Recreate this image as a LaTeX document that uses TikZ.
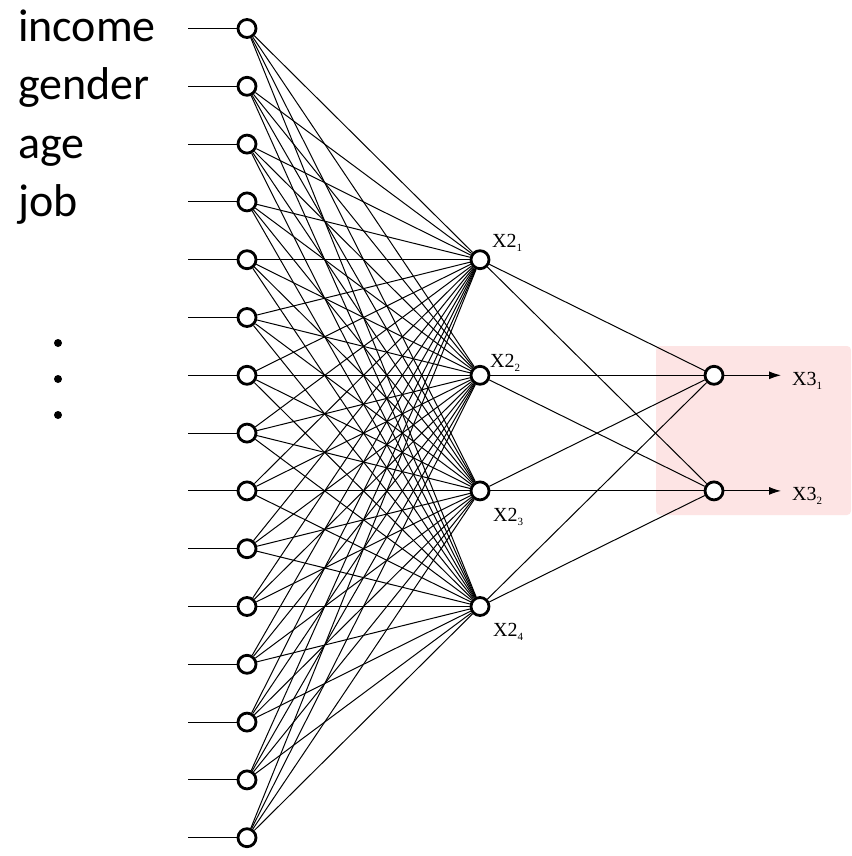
\documentclass[tikz,border=0pt]{standalone}
\usepackage{fontspec}
\setmainfont{Carlito}
\newfontfamily\xserif{Liberation Serif}
\usetikzlibrary{arrows.meta}
\definecolor{pinkbg}{RGB}{253,228,228}
\begin{document}
\begin{tikzpicture}[x=1pt,y=-1pt,
  neuron/.style={circle,draw=black,fill=white,line width=2.8pt,minimum size=18pt,inner sep=0pt},
  link/.style={line width=1pt,black},
  inlabel/.style={anchor=base west,inner sep=0pt,font=\fontsize{46}{46}\selectfont},
  xlabel/.style={anchor=base west,inner sep=0pt,font=\xserif\fontsize{20}{20}\selectfont},
  dotmark/.style={circle,fill=black,inner sep=0pt,minimum size=8pt}]
\useasboundingbox (0,0) rectangle (851,856);
\fill[white] (0,0) rectangle (851,856);
\fill[pinkbg, rounded corners=4pt] (656,346) rectangle (851,515);
% input layer
\foreach \i in {0,...,14} {
  \node[neuron] (in\i) at (247,{28.5+57.8*\i}) {};
  \coordinate (s\i) at (188,{28.5+57.8*\i});
}
% hidden layer
\node[neuron] (h1) at (480,{28.5+57.8*4}) {};
\node[neuron] (h2) at (480,{28.5+57.8*6}) {};
\node[neuron] (h3) at (480,{28.5+57.8*8}) {};
\node[neuron] (h4) at (480,{28.5+57.8*10}) {};
% output layer
\node[neuron] (o1) at (714,{28.5+57.8*6}) {};
\node[neuron] (o2) at (714,{28.5+57.8*8}) {};
\coordinate (a1) at (781,{28.5+57.8*6});
\coordinate (a2) at (781,{28.5+57.8*8});
% connections
\foreach \i in {0,...,14} {
  \draw[link] (s\i) -- (in\i);
  \foreach \j in {1,...,4} { \draw[link] (in\i) -- (h\j); }
}
\foreach \j in {1,...,4} {
  \draw[link] (h\j) -- (o1);
  \draw[link] (h\j) -- (o2);
}
\draw[link,-{Latex[length=12pt,width=8pt]}] (o1) -- (a1);
\draw[link,-{Latex[length=12pt,width=8pt]}] (o2) -- (a2);
% input labels
\node[inlabel] (lincome) at (18,42) {income};
\node[inlabel] (lgender) at (18,100) {gender};
\node[inlabel] (lage) at (18,158) {age};
\node[inlabel] (ljob) at (18,216) {job};
\node[dotmark] (d1) at (58,343) {};
\node[dotmark] (d2) at (58,379) {};
\node[dotmark] (d3) at (58,415) {};
% hidden / output labels
\node[xlabel] (l21) at (492,247) {X2\raisebox{-4pt}{\fontsize{11}{11}\selectfont 1}};
\node[xlabel] (l22) at (490,367) {X2\raisebox{-4pt}{\fontsize{11}{11}\selectfont 2}};
\node[xlabel] (l23) at (493,521) {X2\raisebox{-4pt}{\fontsize{11}{11}\selectfont 3}};
\node[xlabel] (l24) at (493,636) {X2\raisebox{-4pt}{\fontsize{11}{11}\selectfont 4}};
\node[xlabel] (l31) at (792,385) {X3\raisebox{-4pt}{\fontsize{11}{11}\selectfont 1}};
\node[xlabel] (l32) at (792,500) {X3\raisebox{-4pt}{\fontsize{11}{11}\selectfont 2}};
\end{tikzpicture}
\end{document}
